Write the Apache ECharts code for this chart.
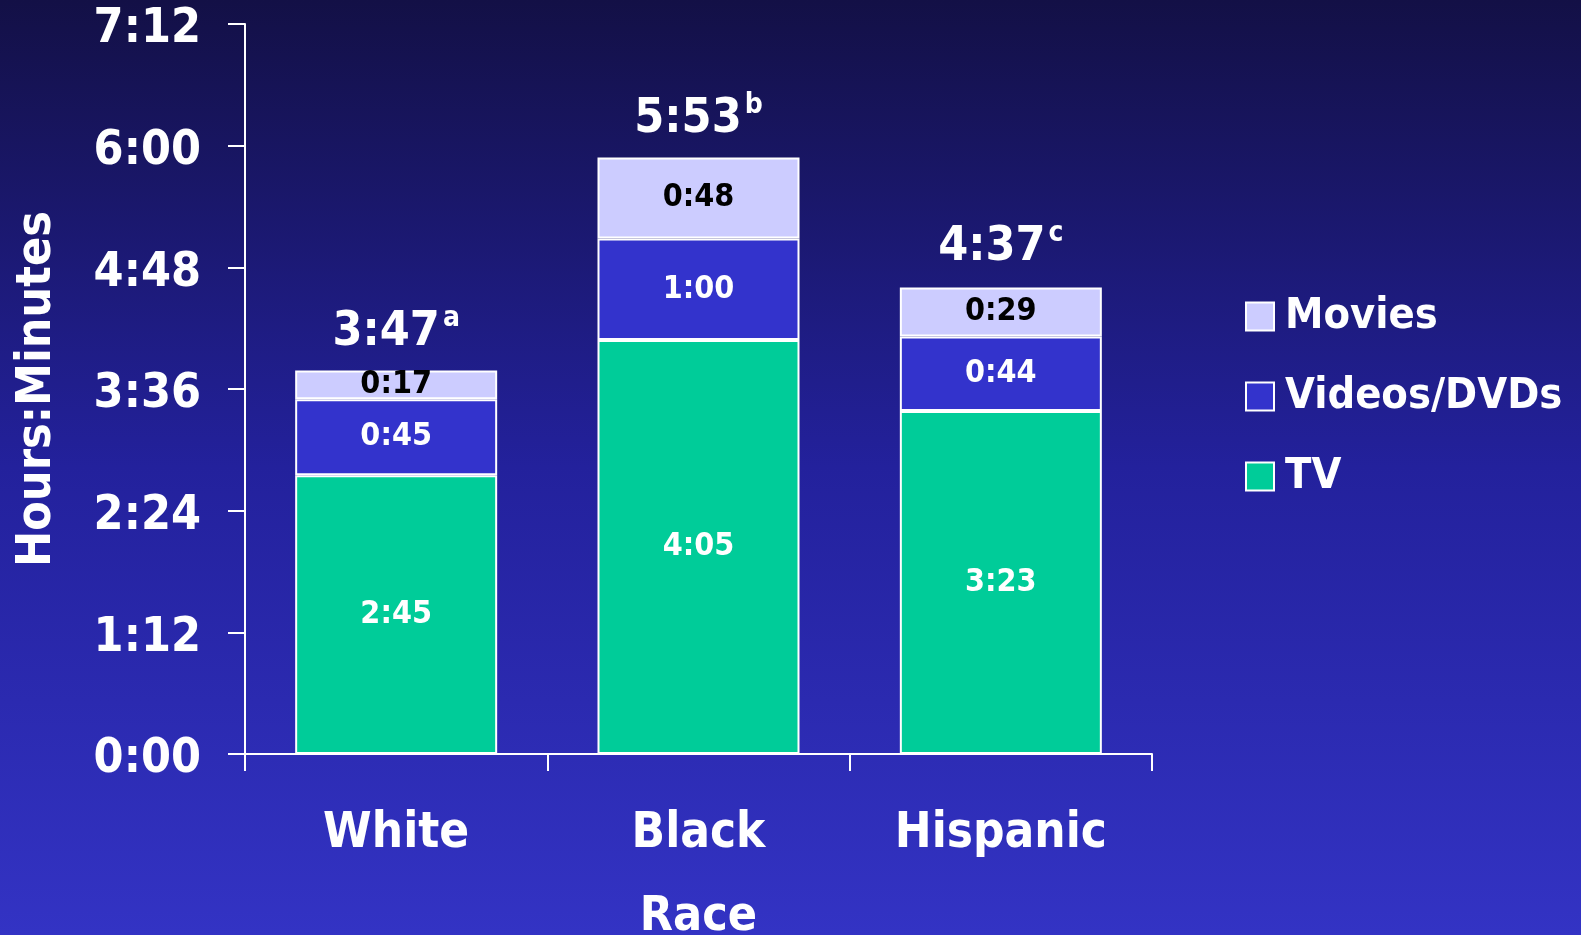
<!DOCTYPE html>
<html>
<head>
<meta charset="utf-8">
<title>Daily screen media use by race</title>
<script src="https://cdn.jsdelivr.net/npm/echarts@6/dist/echarts.min.js"></script>
<style>
  html, body { margin: 0; padding: 0; width: 100%; height: 100%; overflow: hidden; }
  #chart { width: 1581px; height: 935px; }
</style>
</head>
<body>
<div id="chart"></div>
<script>
// Minutes per day, by race
const categories = ['White', 'Black', 'Hispanic'];
const tvMinutes = [165, 245, 203];
const videoMinutes = [45, 60, 44];
const movieMinutes = [17, 48, 29];
const totalMinutes = [227, 353, 277];
const totalNotes = ['a', 'b', 'c'];
const yTickStep = 72;   // 1:12
const yMax = 432;       // 7:12

const FONT = '"DejaVu Sans Condensed", "DejaVu Sans", sans-serif';

function hm(m) {
  const h = Math.floor(m / 60);
  const mm = Math.round(m - h * 60);
  return h + ':' + (mm < 10 ? '0' : '') + mm;
}

const chart = echarts.init(document.getElementById('chart'), null, { renderer: 'canvas' });

const segLabel = (color) => ({
  show: true,
  position: 'inside',
  color: color,
  fontFamily: FONT,
  fontWeight: 'bold',
  fontSize: 32,
  formatter: (p) => hm(p.value)
});

const barBase = {
  type: 'bar',
  stack: 'total',
  barWidth: 202
};

chart.setOption({
  animation: false,
  backgroundColor: {
    type: 'linear', x: 0, y: 0, x2: 0, y2: 1,
    colorStops: [
      { offset: 0, color: '#131046' },
      { offset: 0.5, color: '#23219c' },
      { offset: 1, color: '#3333c4' }
    ]
  },
  grid: { left: 245, right: 429, top: 24, bottom: 181, containLabel: false, outerBoundsMode: 'none' },
  legend: {
    orient: 'vertical',
    left: 1245,
    top: 295,
    padding: 0,
    itemWidth: 28,
    itemHeight: 28,
    itemGap: 37,
    icon: 'rect',
    data: ['Movies', 'Videos/DVDs', 'TV'],
    itemStyle: { borderColor: '#ffffff', borderWidth: 2 },
    textStyle: { color: '#ffffff', fontFamily: FONT, fontWeight: 'bold', fontSize: 43, padding: [0, 0, 0, 6] }
  },
  xAxis: {
    type: 'category',
    data: categories,
    name: 'Race',
    nameLocation: 'middle',
    nameGap: 140,
    nameTextStyle: { color: '#ffffff', fontFamily: FONT, fontWeight: 'bold', fontSize: 48 },
    axisLine: { lineStyle: { color: '#ffffff', width: 2 } },
    axisTick: { show: true, length: 17, lineStyle: { color: '#ffffff', width: 2 } },
    axisLabel: { color: '#ffffff', fontFamily: FONT, fontWeight: 'bold', fontSize: 49, margin: 56 }
  },
  yAxis: {
    type: 'value',
    min: 0,
    max: yMax,
    interval: yTickStep,
    name: 'Hours:Minutes',
    nameLocation: 'middle',
    nameRotate: 90,
    nameGap: 183,
    nameTextStyle: { color: '#ffffff', fontFamily: FONT, fontWeight: 'bold', fontSize: 48 },
    splitLine: { show: false },
    axisLine: { show: true, lineStyle: { color: '#ffffff', width: 2 } },
    axisTick: { show: true, length: 17, lineStyle: { color: '#ffffff', width: 2 } },
    axisLabel: {
      color: '#ffffff', fontFamily: FONT, fontWeight: 'bold', fontSize: 48, margin: 44,
      formatter: (v) => '{t|' + hm(v) + '}',
      rich: {
        t: { color: '#ffffff', fontFamily: FONT, fontWeight: 'bold', fontSize: 48, lineHeight: 60, verticalAlign: 'bottom' }
      }
    }
  },
  series: [
    Object.assign({}, barBase, {
      name: 'TV',
      data: tvMinutes,
      itemStyle: { color: '#00cc99', borderColor: '#ffffff', borderWidth: 2 },
      label: segLabel('#ffffff')
    }),
    Object.assign({}, barBase, {
      name: 'Videos/DVDs',
      data: videoMinutes,
      itemStyle: { color: '#3333cc', borderColor: '#ffffff', borderWidth: 2 },
      label: segLabel('#ffffff')
    }),
    Object.assign({}, barBase, {
      name: 'Movies',
      data: movieMinutes,
      itemStyle: { color: '#ccccff', borderColor: '#ffffff', borderWidth: 2 },
      label: segLabel('#000000')
    }),
    {
      name: 'Total',
      type: 'scatter',
      symbolSize: 0,
      data: totalMinutes,
      itemStyle: { opacity: 1 },
      label: {
        show: true,
        position: 'top',
        distance: 14,
        color: '#ffffff',
        formatter: (p) => '{v|' + hm(p.value) + '}{s|' + totalNotes[p.dataIndex] + '}',
        rich: {
          v: { color: '#ffffff', fontFamily: FONT, fontWeight: 'bold', fontSize: 48, lineHeight: 52, verticalAlign: 'bottom' },
          s: { color: '#ffffff', fontFamily: FONT, fontWeight: 'bold', fontSize: 28, lineHeight: 52, verticalAlign: 'top', padding: [0, 0, 28, 3] }
        }
      },
      tooltip: { show: false }
    }
  ]
});
</script>
</body>
</html>
